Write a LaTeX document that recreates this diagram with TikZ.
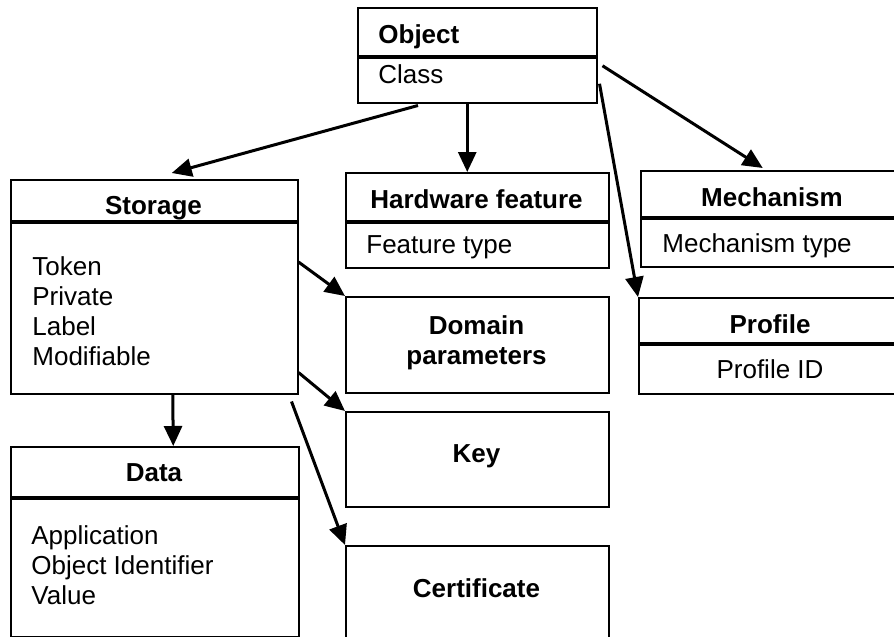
\documentclass[tikz,border=0pt]{standalone}
\usepackage{fontspec}
\setmainfont{Liberation Sans}
\usetikzlibrary{arrows.meta}
\newcommand{\txtsize}{\fontsize{13pt}{15pt}\selectfont}
\tikzset{
  box/.style={draw, line width=0.75pt, anchor=north west, inner sep=0pt},
  ttl/.style={anchor=base, inner sep=0pt, font=\txtsize\bfseries},
  itm/.style={anchor=base west, inner sep=0pt},
  lst/.style={anchor=north west, inner sep=0pt, align=left},
  bar/.style={line width=1.8pt},
  arr/.style={line width=1.5pt, -{Triangle[length=10pt,width=9pt]}}
}
\begin{document}
\begin{tikzpicture}[x=0.5pt, y=-0.5pt, font=\txtsize]
\useasboundingbox (0,0) rectangle (894,637);
% boxes
\node[box, minimum width=119.5pt, minimum height=47.5pt] (obj) at (357,7) {};
\node[box, minimum width=143.5pt, minimum height=107pt] (sto) at (10,179) {};
\node[box, minimum width=131.5pt, minimum height=47.5pt] (hw) at (345,172) {};
\node[box, minimum width=132pt, minimum height=48pt] (mech) at (640,170) {};
\node[box, minimum width=132pt, minimum height=48pt] (prof) at (638,297) {};
\node[box, minimum width=131.5pt, minimum height=48pt] (dom) at (345,296) {};
\node[box, minimum width=131.5pt, minimum height=47.5pt] (key) at (345,411) {};
\node[box, minimum width=131.5pt, minimum height=50pt] (cert) at (345,545) {};
\node[box, minimum width=144pt, minimum height=95pt] (data) at (10,446) {};
% dividers
\draw[bar] ([yshift=-25pt]obj.north west) -- ([yshift=-25pt]obj.north east);
\draw[bar] ([yshift=-21.5pt]sto.north west) -- ([yshift=-21.5pt]sto.north east);
\draw[bar] ([yshift=-25pt]hw.north west) -- ([yshift=-25pt]hw.north east);
\draw[bar] ([yshift=-24pt]mech.north west) -- ([yshift=-24pt]mech.north east);
\draw[bar] ([yshift=-23.5pt]prof.north west) -- ([yshift=-23.5pt]prof.north east);
\draw[bar] ([yshift=-26pt]data.north west) -- ([yshift=-26pt]data.north east);
% texts
\node[ttl, anchor=base west] (objt) at (378,43) {Object};
\node[itm] (objc) at (378,83) {Class};
\node[ttl] (stot) at (153.5,214) {Storage};
\node[lst] (stol) at (32,256) {Token\\Private\\Label\\Modifiable};
\node[ttl] (hwt) at (476.5,208) {Hardware feature};
\node[itm] (hwf) at (366,253) {Feature type};
\node[ttl] (mecht) at (772,206) {Mechanism};
\node[itm] (mechm) at (662,252) {Mechanism type};
\node[ttl] (proft) at (770,333) {Profile};
\node[anchor=base, inner sep=0pt] (profi) at (770,378) {Profile ID};
\node[ttl, anchor=north, align=center] (domt) at (476.5,315) {Domain\\parameters};
\node[ttl] (keyt) at (476.5,462) {Key};
\node[ttl] (certt) at (476.5,597) {Certificate};
\node[ttl] (datat) at (154,481) {Data};
\node[lst] (datal) at (31,525) {Application\\Object Identifier\\Value};
% arrows
\draw[arr] ([xshift=30.5pt,yshift=-1pt]obj.south west) -- ([xshift=8.75pt,yshift=3pt]sto.north);
\draw[arr] ([xshift=-5pt]obj.south) -- ([xshift=-5pt]hw.north);
\draw[arr] ([xshift=2.5pt,yshift=-5.25pt]obj.east) -- ([xshift=-5pt,yshift=1pt]mech.north);
\draw[arr] ([xshift=1pt,yshift=-14.25pt]obj.east) -- (prof.north west);
\draw[arr] ([yshift=-41.5pt]sto.north east) -- (dom.north west);
\draw[arr] ([yshift=11pt]sto.south east) -- (key.north west);
\draw[arr] ([xshift=-3.5pt,yshift=-3.5pt]sto.south east) -- (cert.north west);
\draw[arr] ([xshift=9.25pt]sto.south) -- ([xshift=9.25pt]data.north);
\end{tikzpicture}
\end{document}
